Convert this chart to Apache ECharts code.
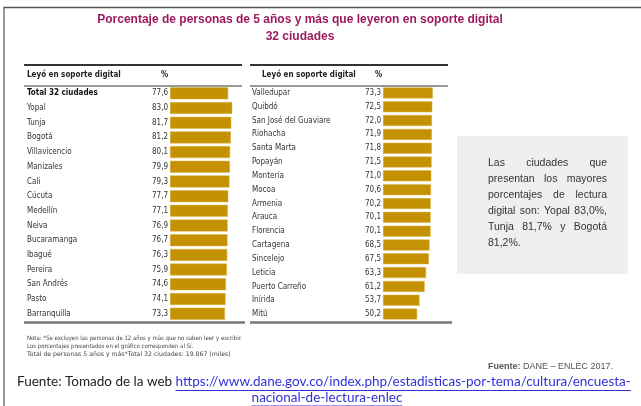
<!DOCTYPE html>
<html>
<head>
<meta charset="utf-8">
<script src="https://cdn.jsdelivr.net/npm/echarts@6/dist/echarts.min.js"></script>
<style>
  html, body { margin: 0; padding: 0; background: #fff; }
  #main { width: 641px; height: 406px; }
</style>
</head>
<body>
<div id="main"></div>
<script>
// datos: ENLEC 2017, lectura en soporte digital
var leftCities = ['Total 32 ciudades', 'Yopal', 'Tunja', 'Bogotá', 'Villavicencio', 'Manizales', 'Cali', 'Cúcuta',
  'Medellín', 'Neiva', 'Bucaramanga', 'Ibagué', 'Pereira', 'San Andrés', 'Pasto', 'Barranquilla'];
var leftValues = [77.6, 83.0, 81.7, 81.2, 80.1, 79.9, 79.3, 77.7, 77.1, 76.9, 76.7, 76.3, 75.9, 74.6, 74.1, 73.3];
var rightCities = ['Valledupar', 'Quibdó', 'San José del Guaviare', 'Riohacha', 'Santa Marta', 'Popayán', 'Montería',
  'Mocoa', 'Armenia', 'Arauca', 'Florencia', 'Cartagena', 'Sincelejo', 'Leticia', 'Puerto Carreño', 'Inírida', 'Mitú'];
var rightValues = [73.3, 72.5, 72.0, 71.9, 71.8, 71.5, 71.0, 70.6, 70.2, 70.1, 70.1, 68.5, 67.5, 63.3, 61.2, 53.7, 50.2];

var narrow = "'Liberation Sans Narrow', 'DejaVu Sans Condensed', sans-serif";
var arial = "'Liberation Sans', Arial, sans-serif";
var barColor = '#c49102';

var chart = echarts.init(document.getElementById('main'), null, { renderer: 'canvas' });

var measureCtx = document.createElement('canvas').getContext('2d');
function textWidth(txt, font) {
  measureCtx.font = font;
  return measureCtx.measureText(txt).width;
}

// texto justificado del recuadro gris
function justified(lines, x0, x1, y0, lh, size) {
  var font = size + 'px ' + arial;
  var out = [];
  lines.forEach(function (line, i) {
    var words = line.split(' ');
    var y = y0 + i * lh;
    var last = i === lines.length - 1;
    if (last || words.length < 2) {
      out.push({ type: 'text', x: x0, y: y, style: { text: line, font: font, fill: '#333', textVerticalAlign: 'middle' } });
      return;
    }
    var total = 0;
    words.forEach(function (w) { total += textWidth(w, font); });
    var gap = (x1 - x0 - total) / (words.length - 1);
    var x = x0;
    words.forEach(function (w) {
      out.push({ type: 'text', x: x, y: y, style: { text: w, font: font, fill: '#333', textVerticalAlign: 'middle' } });
      x += textWidth(w, font) + gap;
    });
  });
  return out;
}

function fmt(v) { return v.toFixed(1).replace('.', ','); }

function catData(list) {
  return list.map(function (c) {
    if (c.indexOf('Total') === 0) return { value: c, textStyle: { fontWeight: 'bold', color: '#111', align: 'left' } };
    return c;
  });
}

var footFont = '13.5px Lato, sans-serif';
var footA = 'Fuente: Tomado de la web ';
var footB = 'https://www.dane.gov.co/index.php/estadisticas-por-tema/cultura/encuesta-';
var footC = 'nacional-de-lectura-enlec';
var footX = 17;
var wA = textWidth(footA, footFont);
var wB = textWidth(footB, footFont);
var wC = textWidth(footC, footFont);
var cC = 327;

var graphics = [
  // marco
  { type: 'line', shape: { x1: 4, y1: 7.5, x2: 641, y2: 7.5 }, style: { stroke: '#555', lineWidth: 1.5 } },
  { type: 'line', shape: { x1: 4, y1: 7, x2: 4, y2: 406 }, style: { stroke: '#333', lineWidth: 1 } },
  // titulo
  { type: 'text', x: 300, y: 20, style: { text: 'Porcentaje de personas de 5 años y más que leyeron en soporte digital',
    font: 'bold 12px ' + arial, fill: '#9e1a60', textAlign: 'center', textVerticalAlign: 'middle' } },
  { type: 'text', x: 300, y: 37, style: { text: '32 ciudades',
    font: 'bold 12px ' + arial, fill: '#9e1a60', textAlign: 'center', textVerticalAlign: 'middle' } },
  // tabla izquierda
  { type: 'line', shape: { x1: 24, y1: 65, x2: 242, y2: 65 }, style: { stroke: '#333', lineWidth: 2 } },
  { type: 'line', shape: { x1: 24, y1: 86, x2: 242, y2: 86 }, style: { stroke: '#333', lineWidth: 1 } },
  { type: 'line', shape: { x1: 24, y1: 322.5, x2: 245, y2: 322.5 }, style: { stroke: '#777', lineWidth: 2.5 } },
  { type: 'text', x: 27, y: 75, style: { text: 'Leyó en soporte digital', font: 'bold 8px ' + narrow, fill: '#222', textVerticalAlign: 'middle' } },
  { type: 'text', x: 161, y: 75, style: { text: '%', font: 'bold 8px ' + narrow, fill: '#222', textVerticalAlign: 'middle' } },
  // tabla derecha
  { type: 'line', shape: { x1: 250, y1: 65, x2: 448, y2: 65 }, style: { stroke: '#333', lineWidth: 2 } },
  { type: 'line', shape: { x1: 250, y1: 86, x2: 448, y2: 86 }, style: { stroke: '#333', lineWidth: 1 } },
  { type: 'line', shape: { x1: 250, y1: 322.5, x2: 452, y2: 322.5 }, style: { stroke: '#777', lineWidth: 2.5 } },
  { type: 'text', x: 262, y: 75, style: { text: 'Leyó en soporte digital', font: 'bold 8px ' + narrow, fill: '#222', textVerticalAlign: 'middle' } },
  { type: 'text', x: 375, y: 75, style: { text: '%', font: 'bold 8px ' + narrow, fill: '#222', textVerticalAlign: 'middle' } },
  // recuadro
  { type: 'rect', shape: { x: 457, y: 136, width: 171, height: 138 }, style: { fill: '#efefef' } },
  // notas
  { type: 'text', x: 27, y: 338, style: { text: 'Nota: *Se excluyen las personas de 12 años y más que no saben leer y escribir.',
    font: '6px ' + narrow, fill: '#444', textVerticalAlign: 'middle' } },
  { type: 'text', x: 27, y: 346, style: { text: 'Los porcentajes presentados en el gráfico corresponden al Sí.',
    font: '6px ' + narrow, fill: '#444', textVerticalAlign: 'middle' } },
  { type: 'text', x: 27, y: 354, style: { text: 'Total de personas 5 años y más*Total 32 ciudades: 19.867 (miles)',
    font: "6.2px 'DejaVu Sans', sans-serif", fill: '#444', textVerticalAlign: 'middle' } },
  { type: 'text', x: 488, y: 367, style: { text: '{b|Fuente:} DANE – ENLEC 2017.', font: '9px ' + arial, fill: '#555',
    textVerticalAlign: 'middle', rich: { b: { fontWeight: 'bold', fontSize: 9, fontFamily: arial, fill: '#555' } } } },
  // fuente web
  { type: 'text', x: footX, y: 382, style: { text: footA, font: footFont, fill: '#222', textVerticalAlign: 'middle' } },
  { type: 'text', x: footX + wA, y: 382, style: { text: footB, font: footFont, fill: '#3030d8', textVerticalAlign: 'middle' } },
  { type: 'line', shape: { x1: footX + wA, y1: 390.5, x2: footX + wA + wB, y2: 390.5 }, style: { stroke: '#3030d8', lineWidth: 1 } },
  { type: 'text', x: cC - wC / 2, y: 398, style: { text: footC, font: footFont, fill: '#3030d8', textVerticalAlign: 'middle' } },
  { type: 'line', shape: { x1: cC - wC / 2, y1: 406, x2: cC + wC / 2, y2: 406 }, style: { stroke: '#3030d8', lineWidth: 1 } }
];

graphics = graphics.concat(justified([
  'Las ciudades que',
  'presentan los mayores',
  'porcentajes de lectura',
  'digital son: Yopal 83,0%,',
  'Tunja 81,7% y Bogotá',
  '81,2%.'
], 488, 607, 163, 16, 10.5));

var labelStyle = { fontFamily: narrow, fontSize: 8, color: '#333' };

chart.setOption({
  animation: false,
  grid: [
    { left: 170, top: 86, width: 75, height: 235, outerBoundsMode: 'none', containLabel: false },
    { left: 383, top: 86, width: 68, height: 235, outerBoundsMode: 'none', containLabel: false }
  ],
  xAxis: [
    { gridIndex: 0, type: 'value', min: 0, max: 100, show: false },
    { gridIndex: 1, type: 'value', min: 0, max: 100, show: false }
  ],
  yAxis: [
    { gridIndex: 0, type: 'category', inverse: true, data: catData(leftCities),
      axisLine: { show: false }, axisTick: { show: false },
      axisLabel: Object.assign({ align: 'left', margin: 143, interval: 0 }, labelStyle) },
    { gridIndex: 1, type: 'category', inverse: true, data: catData(rightCities),
      axisLine: { show: false }, axisTick: { show: false },
      axisLabel: Object.assign({ align: 'left', margin: 131, interval: 0 }, labelStyle) }
  ],
  series: [
    { type: 'bar', xAxisIndex: 0, yAxisIndex: 0, data: leftValues, barWidth: 12,
      itemStyle: { color: barColor, borderColor: '#dcb64a', borderWidth: 0.5 },
      label: { show: true, position: 'left', distance: 2, fontFamily: narrow, fontSize: 8, color: '#333',
        formatter: function (p) { return fmt(p.value); } } },
    { type: 'bar', xAxisIndex: 1, yAxisIndex: 1, data: rightValues, barWidth: 11,
      itemStyle: { color: barColor, borderColor: '#dcb64a', borderWidth: 0.5 },
      label: { show: true, position: 'left', distance: 2, fontFamily: narrow, fontSize: 8, color: '#333',
        formatter: function (p) { return fmt(p.value); } } }
  ],
  graphic: graphics
});
</script>
</body>
</html>
